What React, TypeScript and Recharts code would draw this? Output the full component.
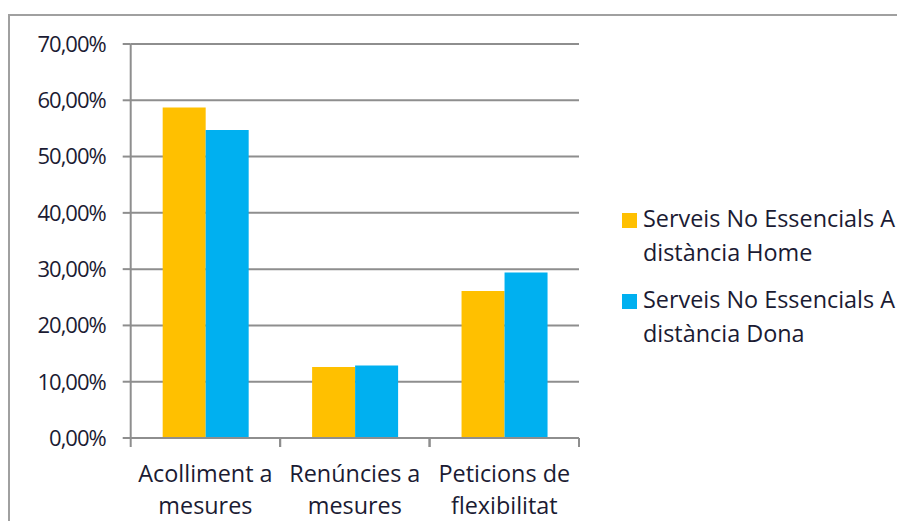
import React from 'react';
import { BarChart, Bar, XAxis, YAxis, CartesianGrid } from 'recharts';

const categories = ['Acolliment a mesures', 'Renúncies a mesures', 'Peticions de flexibilitat'];
const homeValues = [58.7, 12.6, 26.1];
const donaValues = [54.7, 12.9, 29.4];
const seriesNames = ['Serveis No Essencials A distància Home', 'Serveis No Essencials A distància Dona'];
const seriesColors = ['#FFC000', '#00B0F0'];
const yTicks = [0, 10, 20, 30, 40, 50, 60, 70];

const data = categories.map((c, i) => ({ category: c, home: homeValues[i], dona: donaValues[i] }));

const FONT = '"Open Sans", sans-serif';
const FS = 23.4;
const TEXT = '#1B1B33';
const GRID = '#8E8E8E';

const fmt = (v: number) => v.toFixed(2).replace('.', ',') + '%';

const XTick = (props: any) => {
  const { x, y, payload } = props;
  const half = payload && typeof payload.offset === 'number' ? payload.offset : 0;
  const label: string = String(payload.value);
  const cut = label.lastIndexOf(' ');
  const l1 = label.slice(0, cut);
  const l2 = label.slice(cut + 1);
  return (
    <g>
      <line x1={x - half} x2={x - half} y1={y} y2={y + 9} stroke={GRID} strokeWidth={2} />
      <line x1={x + half} x2={x + half} y1={y} y2={y + 9} stroke={GRID} strokeWidth={2} />
      <text x={x} y={y + 43.7} textAnchor="middle" fill={TEXT} fontFamily={FONT} fontSize={FS}>
        {l1}
      </text>
      <text x={x} y={y + 76} textAnchor="middle" fill={TEXT} fontFamily={FONT} fontSize={FS}>
        {l2}
      </text>
    </g>
  );
};

const YTick = (props: any) => {
  const { x, y, payload } = props;
  return (
    <text
      x={x}
      y={y}
      dy="0.355em"
      textAnchor="end"
      fill={TEXT}
      fontFamily={FONT}
      fontSize={22}
      style={{ letterSpacing: '-1px' }}
    >
      {fmt(Number(payload.value))}
    </text>
  );
};

export default function App() {
  return (
    <div style={{ position: 'relative', width: 897, height: 513, overflow: 'hidden', fontFamily: FONT }}>
      <div
        style={{
          position: 'absolute',
          left: 0,
          top: 6,
          width: 960,
          height: 600,
          border: '2px solid #A0A0A0',
          boxSizing: 'border-box',
        }}
      />
      <div style={{ position: 'absolute', left: 0, top: 0 }}>
        <BarChart
          width={897}
          height={513}
          data={data}
          margin={{ top: 36, right: 326, bottom: 1, left: 0 }}
          barCategoryGap="21.4%"
          barGap={0}
        >
          <CartesianGrid vertical={false} stroke={GRID} strokeWidth={2} />
          <XAxis
            dataKey="category"
            height={82}
            tickLine={false}
            tickSize={0}
            tickMargin={0}
            axisLine={{ stroke: GRID, strokeWidth: 2 }}
            tick={<XTick />}
            interval={0}
          />
          <YAxis
            width={122.7}
            domain={[0, 70]}
            ticks={yTicks}
            tickSize={8}
            tickMargin={17}
            axisLine={{ stroke: GRID, strokeWidth: 2 }}
            tickLine={{ stroke: GRID, strokeWidth: 2 }}
            tick={<YTick />}
            interval={0}
          />
          <Bar dataKey="home" name={seriesNames[0]} fill={seriesColors[0]} isAnimationActive={false} />
          <Bar dataKey="dona" name={seriesNames[1]} fill={seriesColors[1]} isAnimationActive={false} />
        </BarChart>
      </div>
      {seriesNames.map((n, i) => (
        <div
          key={n}
          style={{
            position: 'absolute',
            left: 614,
            top: 193 + i * 81,
            width: 280,
          }}
        >
          <div
            style={{
              position: 'absolute',
              left: 0,
              top: 12,
              width: 15,
              height: 15,
              background: seriesColors[i],
            }}
          />
          <div
            style={{
              marginLeft: 21,
              width: 262,
              fontSize: FS,
              lineHeight: '34px',
              color: TEXT,
              fontFamily: FONT,
            }}
          >
            {n}
          </div>
        </div>
      ))}
    </div>
  );
}
